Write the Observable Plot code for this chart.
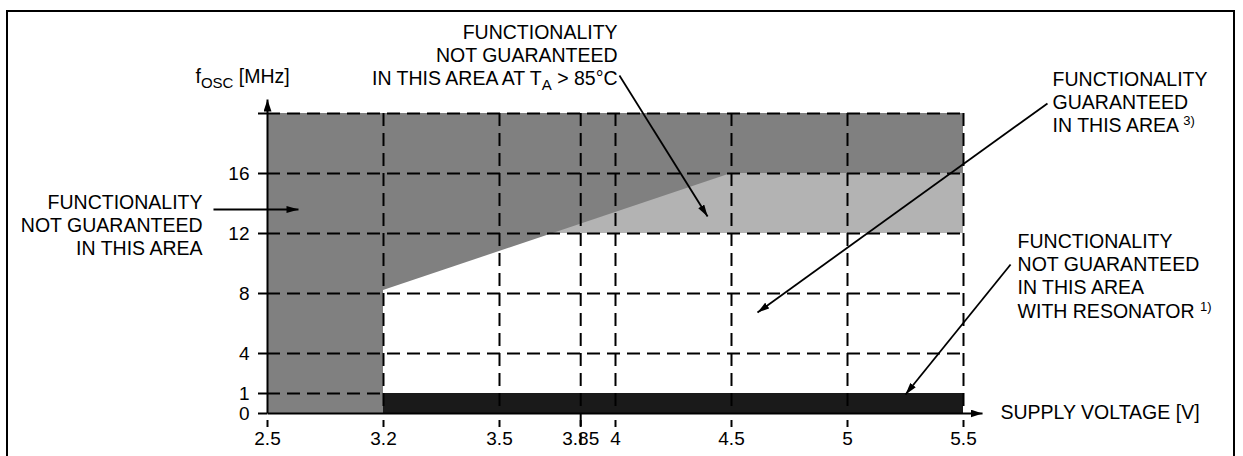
<!DOCTYPE html>
<html><head><meta charset="utf-8">
<script src="https://cdn.jsdelivr.net/npm/d3@7"></script>
<script src="https://cdn.jsdelivr.net/npm/@observablehq/plot@0.6"></script>
<style>
html,body{margin:0;padding:0;background:#fff;overflow:hidden;}
#wrap{position:relative;width:1243px;height:456px;}
#wrap svg{position:absolute;left:0;top:0;}
#frame{position:absolute;left:6px;top:10px;width:1229px;height:480px;box-sizing:border-box;border:2px solid #000;border-bottom:none;pointer-events:none;z-index:2;}
</style></head><body><div id="wrap"><div id="frame"></div></div>
<script>
// ---- axis ticks ----
const xTicks = [2.5, 3.2, 3.5, 3.85, 4, 4.5, 5, 5.5];
const xTickLabels = ["2.5", "3.2", "3.5", "3.85", "4", "4.5", "5", "5.5"];
const yTicks = [0, 1, 4, 8, 12, 16, 20];
const yTickLabels = ["0", "1", "4", "8", "12", "16", ""];
const xGrid = [3.2, 3.5, 3.85, 4, 4.5, 5, 5.5];
const yGrid = [4, 8, 12, 16, 20];
const yGridLow = [1];
// ---- regions: [V1, V2, f1, f2] ----
const darkRegions = [[2.5, 3.2, 0, 20], [3.2, 5.5, 16, 20]];
const lightRegions = [[3.2, 5.5, 12, 16]];
const resonatorBand = [[3.2, 5.5, 0, 1]];
// boundary of the guaranteed area (supply voltage V -> max fOSC MHz)
const boundaryV = [3.2, 4.5];
const boundaryF = [8.2, 16];
// ---- annotations (data units) ----
const notesEnd = ["FUNCTIONALITY\nNOT GUARANTEED\nIN THIS AREA AT T_{A} > 85°C", "FUNCTIONALITY\nNOT GUARANTEED\nIN THIS AREA"];
const notesEndX = [4.009, 2.108];
const notesEndY = [26.03, 14.69];
const notesStart = ["FUNCTIONALITY\nGUARANTEED\nIN THIS AREA ^{3)}", "FUNCTIONALITY\nNOT GUARANTEED\nIN THIS AREA\nWITH RESONATOR ^{1)}", "f_{OSC} [MHz]"];
const notesStartX = [5.884, 5.733, 2.0655];
const notesStartY = [22.89, 12.09, 23.09];
const xTitle = ["SUPPLY VOLTAGE [V]"];
const xTitleX = [5.6595];
const xTitleY = [0.05];
const arrowX1 = [4.017, 2.174, 5.862, 5.703];
const arrowY1 = [22.53, 13.6, 20.67, 9.93];
const arrowX2 = [4.397, 2.687, 4.612, 5.25];
const arrowY2 = [13.13, 13.6, 6.73, 0.95];
const axisX1 = [2.5, 2.5];
const axisY1 = [0, 0];
const axisX2 = [2.5, 5.582];
const axisY2 = [20.93, 0];

const DARK = "#808080", LIGHT = "#b3b3b3", BAND = "#1a1a1a";
const DASH = "13,7";
const NOTE_FS = 19.5, TICK_FS = 19;

function headMarker(w, l) {
  return (color, context) => {
    const doc = (context && context.document) || document;
    const ns = "http://www.w3.org/2000/svg";
    const m = doc.createElementNS(ns, "marker");
    m.setAttribute("viewBox", `${-l} ${-w/2} ${l} ${w}`);
    m.setAttribute("markerWidth", l);
    m.setAttribute("markerHeight", w);
    m.setAttribute("markerUnits", "userSpaceOnUse");
    m.setAttribute("refX", 0);
    m.setAttribute("refY", 0);
    m.setAttribute("orient", "auto");
    const p = doc.createElementNS(ns, "path");
    p.setAttribute("d", `M${-l},${-w/2}L0,0L${-l},${w/2}Z`);
    p.setAttribute("fill", color === "currentColor" ? "black" : color);
    p.setAttribute("stroke", "none");
    m.appendChild(p);
    return m;
  };
}

function build(useCustom) {
  const mk1 = useCustom ? headMarker(7, 12) : "arrow";
  const mk2 = useCustom ? headMarker(8, 12) : "arrow";
  const rectOpts = (fill) => ({x1: d => d[0], x2: d => d[1], y1: d => d[2], y2: d => d[3], fill});
  return Plot.plot({
    width: 1243, height: 456,
    marginLeft: 267, marginRight: 280, marginTop: 113, marginBottom: 43,
    x: {type: "linear", domain: [2.5, 3.2, 3.5, 4, 4.5, 5, 5.5], range: [267, 383, 499, 615, 731, 847, 963], label: null},
    y: {type: "linear", domain: [0, 1, 4, 20], range: [413, 393, 353, 113], label: null},
    style: {fontFamily: "'Liberation Sans', Arial, Helvetica, sans-serif", fontSize: "19px", background: "transparent", overflow: "visible", color: "black"},
    marks: [
      Plot.rect(lightRegions, rectOpts(LIGHT)),
      Plot.rect(darkRegions, rectOpts(DARK)),
      Plot.areaY(boundaryV, {x: d => d, y1: (d, i) => boundaryF[i], y2: 16, fill: DARK}),
      Plot.rect(resonatorBand, rectOpts(BAND)),
      Plot.ruleY(yGrid, {x1: 2.5, x2: 5.5, stroke: "black", strokeWidth: 2, strokeDasharray: DASH}),
      Plot.ruleY(yGridLow, {x1: 2.5, x2: 3.2, stroke: "black", strokeWidth: 2, strokeDasharray: DASH}),
      Plot.ruleX(xGrid, {y1: 20, y2: d => d === 3.85 ? -1.6 : 0, stroke: "black", strokeWidth: 2, strokeDasharray: DASH}),
      Plot.axisY(yTicks, {tickSize: 9, tickPadding: 9, strokeWidth: 2, fontSize: TICK_FS, label: null, tickFormat: d => yTickLabels[yTicks.indexOf(d)]}),
      Plot.axisX(xTicks, {tickSize: 7, dy: 7, tickPadding: 4, strokeWidth: 2, fontSize: TICK_FS, label: null, tickFormat: d => xTickLabels[xTicks.indexOf(d)]}),
      Plot.link(axisX1, {x1: d => d, y1: (d, i) => axisY1[i], x2: (d, i) => axisX2[i], y2: (d, i) => axisY2[i], stroke: "black", strokeWidth: 2, markerEnd: mk2}),
      Plot.link(arrowX1, {x1: d => d, y1: (d, i) => arrowY1[i], x2: (d, i) => arrowX2[i], y2: (d, i) => arrowY2[i], stroke: "black", strokeWidth: 1.8, markerEnd: mk1}),
      Plot.text(notesEnd, {x: (d, i) => notesEndX[i], y: (d, i) => notesEndY[i], text: d => d, textAnchor: "end", lineAnchor: "top", lineHeight: 1.18, fontSize: NOTE_FS, fill: "black"}),
      Plot.text(notesStart, {x: (d, i) => notesStartX[i], y: (d, i) => notesStartY[i], text: d => d, textAnchor: "start", lineAnchor: "top", lineHeight: 1.18, fontSize: NOTE_FS, fill: "black"}),
      Plot.text(xTitle, {x: (d, i) => xTitleX[i], y: (d, i) => xTitleY[i], text: d => d, textAnchor: "start", lineAnchor: "middle", fontSize: NOTE_FS, fill: "black"})
    ]
  });
}

let chart;
try { chart = build(true); } catch (e) { chart = build(false); }

function richify(el) {
  const s = el.textContent;
  while (el.firstChild) el.removeChild(el.firstChild);
  const ns = "http://www.w3.org/2000/svg";
  const re = /([_^])\{([^}]*)\}/g;
  let last = 0, m, pending = 0;
  const add = (txt, dy, size) => {
    const t = document.createElementNS(ns, "tspan");
    t.textContent = txt;
    if (dy) t.setAttribute("dy", dy);
    if (size) t.setAttribute("font-size", size);
    el.appendChild(t);
  };
  while ((m = re.exec(s))) {
    if (m.index > last) { add(s.slice(last, m.index), pending, null); pending = 0; }
    const shift = m[1] === "_" ? 5 : -7;
    add(m[2], shift + pending, m[1] === "_" ? 15 : 13);
    pending = -shift;
    last = re.lastIndex;
  }
  if (last < s.length) add(s.slice(last), pending, null);
}
d3.select(chart).selectAll("text, tspan").each(function () {
  if (this.children.length === 0 && /[_^]\{/.test(this.textContent)) richify(this);
});
document.getElementById("wrap").appendChild(chart);
</script>
</body></html>
